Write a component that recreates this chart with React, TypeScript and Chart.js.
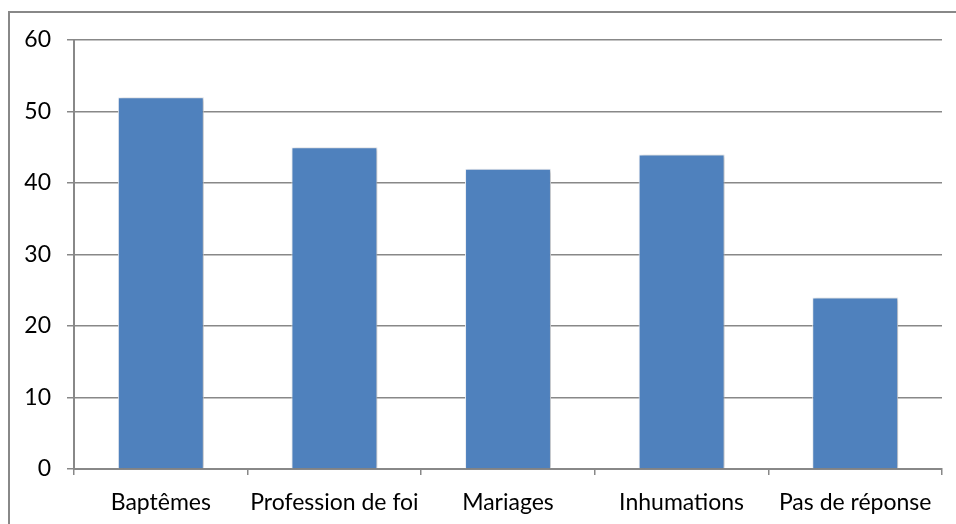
import React, { useEffect, useRef } from "react";
import { Chart, registerables } from "chart.js";

Chart.register(...registerables);

const categories = ["Baptêmes", "Profession de foi", "Mariages", "Inhumations", "Pas de réponse"];
const values = [52, 45, 42, 44, 24];
const yMin = 0;
const yMax = 60;
const yStep = 10;

const FONT = "Lato";
const GRID = "#888888";

export default function App() {
  const ref = useRef<HTMLCanvasElement | null>(null);

  useEffect(() => {
    document.body.style.margin = "0";
    const canvas = ref.current;
    if (!canvas) return;
    const shadowPlugin = {
      id: "barShadow",
      beforeDatasetsDraw(chart: any) {
        const ctx = chart.ctx;
        ctx.save();
        ctx.shadowColor = "rgba(0,0,0,0.25)";
        ctx.shadowBlur = 4;
        ctx.shadowOffsetX = 2;
        ctx.shadowOffsetY = 1;
      },
      afterDatasetsDraw(chart: any) {
        chart.ctx.restore();
      },
    };
    const chart = new Chart(canvas, {
      type: "bar",
      data: {
        labels: categories,
        datasets: [
          {
            data: values,
            backgroundColor: "#4F81BD",
            borderColor: "#F2F5FA",
            borderWidth: 1,
            categoryPercentage: 1,
            barPercentage: 0.495,
          },
        ],
      },
      plugins: [shadowPlugin],
      options: {
        animation: false,
        responsive: false,
        maintainAspectRatio: false,
        layout: { padding: { left: 0, top: 40, right: 14, bottom: 0 } },
        plugins: { legend: { display: false }, tooltip: { enabled: false } },
        scales: {
          x: {
            grid: {
              offset: true,
              drawOnChartArea: false,
              drawTicks: true,
              tickLength: 6,
              color: GRID,
              lineWidth: 1.5,
            },
            border: { color: GRID, width: 2 },
            ticks: {
              color: "#000",
              font: { family: FONT, size: 23 },
              padding: 14,
              maxRotation: 0,
              autoSkip: false,
            },
            afterFit(scale: any) {
              scale.height = 55;
            },
          },
          y: {
            min: yMin,
            max: yMax,
            grid: {
              color: GRID,
              lineWidth: 1.5,
              tickLength: 7,
            },
            border: { color: GRID, width: 2 },
            ticks: {
              stepSize: yStep,
              color: "#000",
              font: { family: FONT, size: 23 },
              padding: 16,
            },
            afterFit(scale: any) {
              scale.width = 74;
            },
          },
        },
      },
    });
    return () => chart.destroy();
  }, []);

  return (
    <div style={{ position: "relative", width: 956, height: 524, overflow: "hidden", background: "#fff" }}>
      <canvas ref={ref} width={956} height={524} style={{ position: "absolute", left: 0, top: 0 }} />
      <div
        style={{
          position: "absolute",
          left: 8,
          top: 11,
          width: 1000,
          height: 600,
          border: "2px solid #888888",
          pointerEvents: "none",
        }}
      />
    </div>
  );
}
